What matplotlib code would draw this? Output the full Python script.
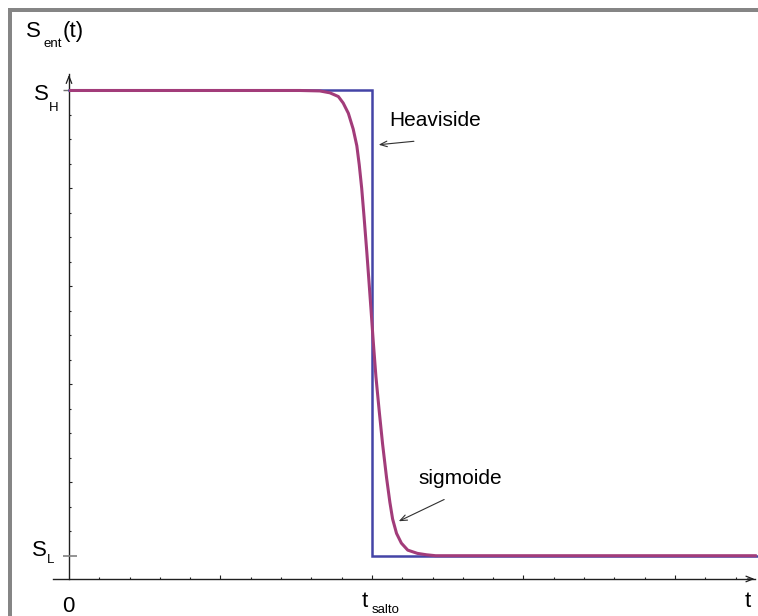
import numpy as np
import matplotlib
matplotlib.use('Agg')
import matplotlib.pyplot as plt
from matplotlib.patches import Rectangle

plt.rcParams['font.family'] = ['Liberation Sans', 'DejaVu Sans']

# valori (t in unita' di tacca, S normalizzata: S_L=0, S_H=1)
t_salto = 10.0
t_end = 22.7
S_H = 1.0
S_L = 0.0

heav_t = [0.0, t_salto, t_salto, t_end]
heav_s = [S_H, S_H, S_L, S_L]

sig_t = [0.0, 7.62, 8.28, 8.61, 8.89, 9.05, 9.22, 9.38, 9.50, 9.58, 9.66,
         9.74, 9.83, 9.90, 9.97, 10.04, 10.13, 10.24, 10.35, 10.48, 10.59,
         10.68, 10.81, 10.97, 11.18, 11.50, 11.80, 12.1, t_end]
sig_s = [1.0, 1.0, 0.999, 0.995, 0.987, 0.973, 0.951, 0.917, 0.881, 0.840, 0.790,
         0.727, 0.652, 0.590, 0.527, 0.462, 0.385, 0.310, 0.240, 0.168, 0.115,
         0.079, 0.048, 0.027, 0.012, 0.005, 0.002, 0.0, 0.0]

fig = plt.figure(figsize=(7.58, 6.16), dpi=100)
ax = fig.add_axes([0, 0, 1, 1])
ax.axis('off')
ax.set_xlim(-2.277, 22.74)
ax.set_ylim(-0.1296, 1.1945)

# cornice grigia
fig.add_artist(Rectangle((8.3/758, 0), 4/758, 1 - 8.3/616, transform=fig.transFigure,
                         color='#858585', lw=0))
fig.add_artist(Rectangle((8.3/758, 1 - 12.3/616), 1, 4/616, transform=fig.transFigure,
                         color='#858585', lw=0))

ax_col = '#202020'
y0 = -0.05
# assi con frecce
ax.plot([-0.53, t_end - 0.05], [y0, y0], color=ax_col, lw=1.0)
ax.plot([0, 0], [y0, 1.035], color=ax_col, lw=1.0)
ax.annotate('', xy=(22.72, y0), xytext=(22.3, y0),
            arrowprops=dict(arrowstyle='->,head_length=0.5,head_width=0.2', color=ax_col, lw=0.9))
ax.annotate('', xy=(0, 1.0397), xytext=(0, 1.02),
            arrowprops=dict(arrowstyle='->,head_length=0.5,head_width=0.2', color=ax_col, lw=0.9))

# tacche asse x
xt = np.arange(1, 23)
major_x = (xt % 5 == 0)
ax.vlines(xt[~major_x], y0, y0 + 0.0045, color=ax_col, lw=0.8)
ax.vlines(xt[major_x], y0, y0 + 0.009, color=ax_col, lw=0.8)

# tacche asse y
k = np.arange(1, 19)
yt = S_H - k / 19
major_y = (k % 4 == 0)
ax.hlines(yt[~major_y], 0, 0.05, color=ax_col, lw=0.8)
ax.hlines(yt[major_y], 0, 0.11, color=ax_col, lw=0.8)
ax.hlines(S_H, -0.2, 0, color='#707070', lw=1.0)
ax.hlines(S_L, -0.2, 0.28, color='#808080', lw=1.2)

# curve
ax.plot(heav_t, heav_s, color='#4444a6', lw=1.8, solid_joinstyle='miter')
ax.plot(sig_t, sig_s, color='#a23c7a', lw=2.2, solid_capstyle='butt', solid_joinstyle='round')

# etichette
fs = 16
sub = 9.5
ax.text(-1.419, 1.115, 'S', fontsize=fs, va='baseline', ha='left')
ax.text(-0.825, 1.0935, 'ent', fontsize=sub, va='baseline', ha='left')
ax.text(-0.2, 1.115, '(t)', fontsize=fs, va='baseline', ha='left')

ax.text(-1.17, 0.9785, 'S', fontsize=fs, va='baseline', ha='left')
ax.text(-0.66, 0.956, 'H', fontsize=sub, va='baseline', ha='left')
ax.text(-1.23, 0.0, 'S', fontsize=fs, va='baseline', ha='left')
ax.text(-0.736, -0.0157, 'L', fontsize=sub, va='baseline', ha='left')

ax.text(-0.02, -0.120, '0', fontsize=fs, va='baseline', ha='center')
ax.text(9.66, -0.1096, 't', fontsize=fs, va='baseline', ha='left')
ax.text(9.99, -0.123, 'salto', fontsize=sub, va='baseline', ha='left')
ax.text(22.31, -0.1096, 't', fontsize=fs, va='baseline', ha='left')

ax.text(10.57, 0.9237, 'Heaviside', fontsize=15, va='baseline', ha='left')
ax.text(11.52, 0.155, 'sigmoide', fontsize=15, va='baseline', ha='left')

ax.annotate('', xy=(10.13, 0.8828), xytext=(11.475, 0.8914),
            arrowprops=dict(arrowstyle='->,head_length=0.5,head_width=0.2', color='#303030', lw=0.8))
ax.annotate('', xy=(10.8, 0.0715), xytext=(12.465, 0.1234),
            arrowprops=dict(arrowstyle='->,head_length=0.5,head_width=0.2', color='#303030', lw=0.8))

fig.savefig('out.png', dpi=100)
